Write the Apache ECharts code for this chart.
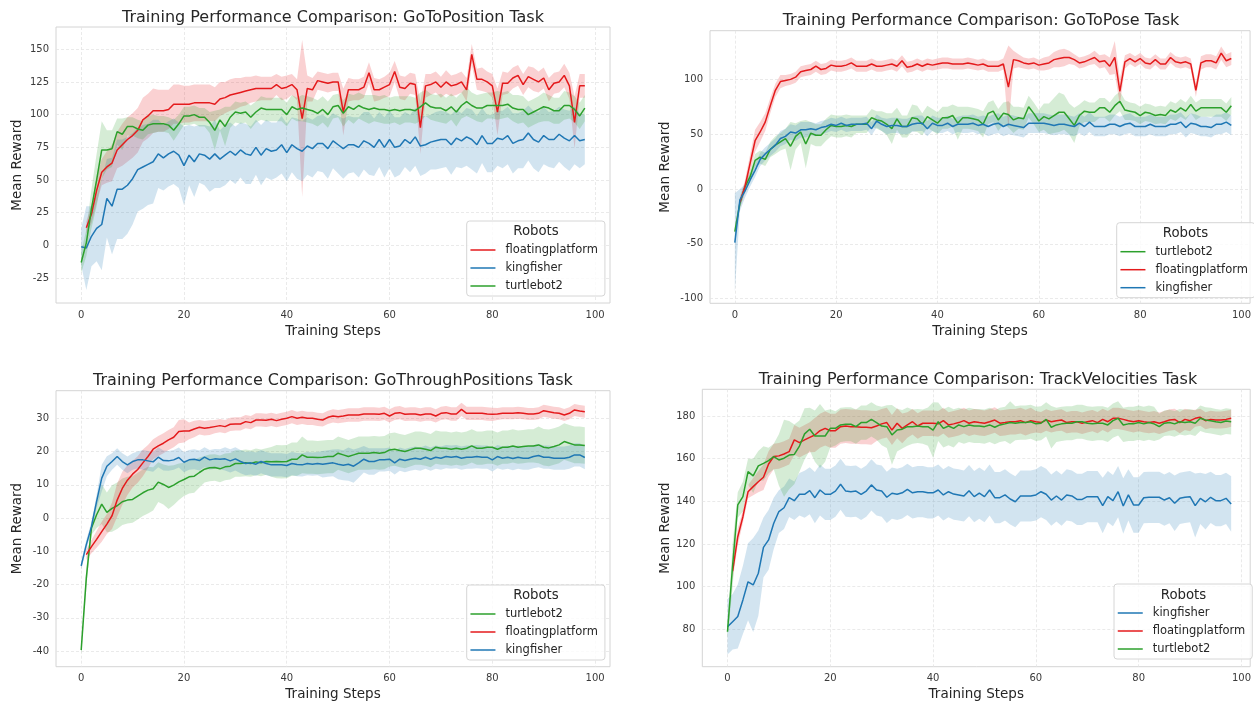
<!DOCTYPE html>
<html><head><meta charset="utf-8">
<script src="https://cdn.jsdelivr.net/npm/echarts@6/dist/echarts.min.js"></script>
<style>html,body{margin:0;padding:0;background:#fff}#c{width:1254px;height:703px}</style>
</head><body><div id="c"></div>
<script>
// ---------------- DATA ----------------
// x = training step; kingfisher & turtlebot2 start at step 0, floatingplatform at step 1
const firstStep = {floatingplatform: 1, kingfisher: 0, turtlebot2: 0};
const xTicks = [0, 20, 40, 60, 80, 100];
const p1YTicks = [-25, 0, 25, 50, 75, 100, 125, 150];
const p2YTicks = [-100, -50, 0, 50, 100];
const p3YTicks = [-40, -30, -20, -10, 0, 10, 20, 30];
const p4YTicks = [80, 100, 120, 140, 160, 180];

// GoToPosition
const p1KingMean = [-1,-2,7,13,16,36,30,43,43,46,51,58,60,62,64,70,67,70,72,69,61,69,64,70,69,66,70,66,69,72,69,73,70,69,75,69,74,72,73,77,71,77,74,72,76,74,78,78,74,80,77,74,77,77,75,80,78,75,81,75,81,75,76,81,78,83,76,77,79,80,81,81,77,82,80,83,81,77,84,78,78,82,81,84,78,80,81,86,81,79,84,81,81,85,82,80,84,80,81];
const p1KingCi = [14,32,23,25,35,30,37,38,38,37,35,32,32,31,32,26,25,25,25,25,30,23,27,22,23,25,26,22,23,22,22,21,23,22,21,23,22,22,21,22,22,21,23,23,22,22,21,22,23,21,22,23,22,21,23,22,24,22,21,23,22,23,22,21,22,22,23,22,21,22,22,21,23,22,21,22,23,22,21,22,22,21,22,22,23,21,22,21,22,23,22,21,22,21,22,23,22,21,19];
const p1FloatMean = [13.5,24,42,56,60,63,73,77,81,84,88,96,99,103,103,103,104,108,108,108,108,109,109,109,109,108,112,113,115,116,117,118,119,120,120,120,120,123,120,121,123,119,97,120,119,126,125,124,125,125,102,119,119,119,121,132,119,119,121,123,133,121,120,124,123,90,122,123,125,121,125,122,123,125,119,146,127,127,125,122,102,124,124,128,130,123,129,127,125,128,119,124,125,130,122,94,122,122];
const p1FloatCi = [5,7,10,10,12,14,14,16,17,17,17,17,17,17,16,16,15,15,15,14,14,14,14,14,14,13,13,12,12,12,11,11,10,10,9,9,9,8,9,9,8,8,60,10,9,7,7,7,7,7,18,9,8,8,8,8,9,8,8,9,8,9,9,8,8,20,9,8,8,8,9,8,8,8,9,8,8,9,8,9,18,9,8,8,8,8,8,9,8,8,9,8,8,9,10,20,9,9];
const p1TurtleMean = [-13,2,28,50,73,73,74,87,85,91,91,89,88,92,93,93,93,92,88,93,99,99,100,98,98,94,88,96,91,98,102,101,102,98,102,105,104,104,104,104,100,106,104,105,104,103,101,104,100,106,107,101,106,104,107,105,104,105,104,104,103,104,103,104,104,103,106,109,106,105,105,103,106,102,107,110,107,105,105,107,107,107,107,108,105,104,104,100,102,104,106,105,103,103,107,107,104,99,105];
const p1TurtleCi = [8,10,15,20,22,15,14,10,12,7,7,7,7,7,7,6,6,6,8,7,7,7,7,7,7,8,15,8,15,8,8,8,8,9,8,9,9,9,9,9,9,9,9,10,10,10,10,10,10,9,9,10,10,11,10,10,11,10,10,11,10,10,11,10,10,10,11,10,10,10,11,10,10,11,10,11,10,10,11,10,10,11,10,10,10,11,10,10,10,10,11,10,10,10,11,10,10,10,10];

// GoToPose
const p2KingMean = [-49,-10,-2,8,17,27,32,36,40,46,48,52,51,54,54,55,54,56,57,59,58,60,58,59,59,59,60,55,62,59,57,58,58,57,57,59,60,60,55,60,58,58,60,57,59,59,59,60,58,59,57,59,60,57,59,58,57,56,60,60,60,60,59,58,59,59,58,57,60,57,61,57,57,57,59,59,57,59,60,57,57,57,59,57,57,57,59,59,61,56,60,59,57,57,56,59,59,61,58];
const p2KingCi = [45,10,6,6,6,6,6,6,6,7,7,7,7,7,7,6,6,6,6,6,6,6,6,6,6,6,6,6,6,6,7,7,7,7,7,7,7,7,7,7,7,7,7,7,7,8,8,8,8,8,9,9,9,9,9,9,9,9,9,9,9,9,9,9,9,9,9,9,9,9,9,9,9,9,9,9,9,9,9,9,9,9,9,9,9,9,9,9,9,9,9,9,9,9,9,9,9,9,9];
const p2FloatMean = [-12,2,23,44,52,61,76,90,98,99,100,102,107,108,109,112,109,110,113,112,112,113,115,112,112,112,114,112,112,113,114,112,117,111,112,114,112,114,113,114,115,115,114,114,114,115,114,113,114,112,112,112,114,93,118,117,115,114,115,113,114,115,118,119,120,120,118,115,116,118,120,116,117,112,120,89,116,119,116,119,115,114,118,114,114,120,116,115,116,114,90,115,117,117,115,124,117,119];
const p2FloatCi = [5,6,8,10,9,8,7,6,6,5,5,5,5,5,5,5,5,5,5,5,5,5,5,5,5,5,5,5,5,5,5,5,5,5,5,5,5,5,5,5,5,5,5,5,5,5,5,5,5,5,5,5,5,38,8,6,5,5,5,5,6,6,7,8,8,6,5,5,5,5,6,6,6,8,15,12,6,5,5,5,5,5,5,5,5,5,5,5,5,5,6,6,6,6,6,6,6,6];
const p2TurtleMean = [-39,-13,2,11,26,29,27,36,40,43,46,39,48,52,41,51,49,49,54,58,57,57,58,57,59,59,59,65,63,62,59,55,64,57,57,65,64,59,66,63,60,65,65,67,60,65,65,64,63,59,69,71,63,69,68,63,65,64,75,69,62,66,64,67,70,70,64,58,67,71,70,70,74,74,70,76,80,72,71,70,67,70,69,67,68,67,72,70,74,71,77,71,74,74,74,74,74,70,76];
const p2TurtleCi = [5,5,4,5,6,6,6,7,8,8,9,22,12,10,22,10,10,10,10,10,10,10,10,10,8,8,8,8,8,9,10,14,10,10,10,12,12,10,10,10,10,10,10,10,15,10,10,10,10,12,10,10,10,10,12,12,10,10,10,10,10,12,14,16,18,16,14,16,10,10,9,9,9,9,9,9,9,9,8,8,8,8,8,8,8,8,8,8,8,8,8,8,8,8,8,8,8,8,8];

// GoThroughPositions
const p3KingMean = [-14.4,-8,-2.6,5,12,15.6,17,18.5,17,16,17,17.5,17.5,17.2,16.9,18.3,17.3,17.2,17.5,18.2,16.8,17.5,17.7,17.3,18.3,17.5,17.8,17.7,17.8,17.2,17.8,17,16.4,16.6,16.2,17,16.4,16,16,16,15.8,16.4,16.1,16,16.4,16.2,16.4,16.2,16.4,16.6,16.2,15.9,16.2,15.6,16.6,17.7,17,17,17.5,17.5,17.7,16.6,17.7,17.3,17.7,18,17.7,18.3,17.7,18.3,18,18.5,18.3,18.5,18,18.3,18.3,18.5,18.3,18.3,17.5,18.5,18,18.3,17.9,18.3,18,18,18.5,18.8,18.3,18.3,18,18,18,18.3,19,19,18.2];
const p3KingCi = [1.2,1.5,1.5,2,4,3,2.5,2.5,2.5,2.5,2.5,2.5,3,3,3,3,3,3,3,3,3,3,3,3,3,3,3,3,3.5,3.5,3.5,3.5,3.5,3.5,3.5,3.5,3.5,3.5,3.5,3.5,3.5,3.5,3.5,3.5,3.5,3.5,3.5,4,4,4,4.5,4.5,5,5,4.5,4,4,4,3.5,3.5,3.5,3.5,3.5,3.5,3.5,3.5,3.5,3.5,3.5,3.5,3.5,3.5,3.5,3.5,3.5,3.5,3.5,3.5,3.5,3.5,3.5,3.5,3.5,3.5,3.5,3.5,3.5,3.5,3.5,3.5,3.5,3.5,3.5,3.5,3.5,3.5,3.5,3.5,3.5];
const p3FloatMean = [-11,-8.6,-6.4,-4.1,-1.8,0.7,5.4,8.9,11.4,13.2,14.6,16.6,18.5,20.7,21.7,22.5,23.5,24.3,26,26.2,26.2,26.8,27.3,27,27.2,27.5,27.8,27.5,28.2,28.3,28.3,29,28.7,29.5,29.5,29.4,29.7,29.3,29.7,30,30.5,30,30.3,30,30,29.7,29.5,30.3,30.7,30.5,30.7,31,31,31,31.3,31.3,31.3,31.2,31.5,30.7,31.5,31.7,31.2,31.3,31.3,31,31.3,31.3,30.7,31.5,31.7,31.3,31.3,32.7,31.5,31.5,31.5,31.5,31.3,31.2,31.3,31.5,31.5,31.5,31.7,31.5,31.3,31.3,31.5,32.3,32,31.7,31.5,31,31.5,32.5,32.2,32];
const p3FloatCi = [1.5,2,2.5,3,3,4,5,5,4.5,4,4,4,3.5,3,3,3,3,3,3.5,3.5,2.5,2.5,2.2,2.2,2.2,2,2,2,2,2,2,2,2,2,2,2,2,2,2,2,2,2,2,2,2,2,2,2,2,2,2,2,2,2,2,2,2,2,2,2,2,2,2,2,2,2,2,2,2,2,2,2,2,2,2,2,2,2,2,2,1.8,1.8,1.8,1.8,1.8,1.8,1.8,1.8,1.8,1.8,1.8,1.8,1.8,1.8,1.8,1.8,1.8,1.8];
const p3TurtleMean = [-39.7,-18,-3,1,4.2,1.7,2.9,3.7,4.9,5.4,5.6,6.6,7.6,8.4,8.8,10.8,10.1,9.2,9.9,10.9,11.6,12.4,12.6,13.7,14.7,15.1,15.2,14.8,15.4,15.6,16.4,16.4,16.6,16.4,16.9,16.6,17,16.9,17,16.9,17,17.7,17.7,19,18.3,18.3,18.2,18.3,18.5,18.5,19.5,19,18.5,19,19.5,19.5,19.5,19.7,19.5,19.7,20.5,20.7,20.3,20,20.5,21,21,20.7,20.3,21.3,21,21,20.7,21,20.7,21,21.7,21,21,21.3,21.3,20.7,21.3,21.3,21.7,21.3,21.5,21.7,21.7,22,21.3,21.1,21.5,22,23,22.5,22,22,21.8];
const p3TurtleCi = [1.5,3,2,4,6,6,7,7,7,7,7,7,7,7,6.5,6,6,6.5,6,5.5,5,5,5,4.5,4,4,4,4,4,4,4,4,4,4,4,4,4,4.5,5,5,5,5,5,5.5,5,5,5,5,5,5,5,5,5,5,5,5,5,5,5,5,5,5,5,5,5,5,5,5,5,5,5,5,5,5,5,5,5,5,5,5,5,5,5,5,5,5,5,5,5,5.5,5.5,5.5,5.5,5.5,5.5,5.5,5.5,5.5,5.5];

// TrackVelocities
const p4KingMean = [81.2,83.6,86,93.8,102.3,100.8,106.3,118.4,121.9,129.7,135.2,137,141.7,140.3,143.3,143.3,145,141.7,145.3,143.3,143.3,144.8,148,144.8,144.5,144.8,143.3,144.8,147.7,145.3,144.8,141.9,143.8,143.3,144,145.6,144,144.5,144.5,144,144,145.3,143,144.5,143.4,143,142.5,145,142.2,143.8,142.2,145.3,141.7,141.7,143,141.1,139.8,142.5,142.5,142.5,143,144.5,143.3,140.6,142.5,140.6,143,142.5,140.9,140.9,142.2,142.2,142.2,138,142.2,140.3,144.5,137.8,143,138.3,138.3,141.7,141.9,141.9,141.9,140.6,141.7,139.1,141.4,141.9,142.2,138,141.4,139.8,141.9,140.3,140.3,141.4,138.8];
const p4KingCi = [13,13,15,16,18,22,20,14,14,12,10,10,9,9,10,11,11,12,12,12,12,12,12,12,12,12,12,12,12,12,12,12,12,12,12,12,12,12,12,12,12,12,12,12,12,12,12,12,12,12,12,12,12,12,12,12,12,12,12,12,12,12,12,12,12,12,12,12,12,12,12,12,12,13,12,12,12,13,12,13,13,12,12,12,12,12,12,13,12,12,12,15,12,13,12,12,12,12,13];
const p4FloatMean = [107.3,123.4,132.8,144.5,146.9,149.2,151.3,157.5,161,161.3,162.2,163.3,168.8,167.5,168.8,170,171.1,173.1,174.2,173.1,173.1,175,175.3,175,175,174.7,174.7,174.5,175.3,176.3,176.9,173.4,176.6,174.2,175.8,177.3,175.3,176.6,176.6,176.6,176.3,177.8,175.8,176.3,176.9,177.8,176.6,177.3,176.9,176.6,177.3,178.1,176.6,176.9,177.3,177.3,177.8,176.9,177.8,177.3,176.9,178.1,177.3,177.8,178.1,176.9,177.3,177.3,176.6,177.3,177.8,176.9,178.4,177.3,178.9,178.9,178.4,177.8,177.3,177.8,177.3,176.9,177.3,176.6,177.3,178.1,178.4,176.9,178.4,177.8,178.9,179.4,177.8,178.4,178.1,178.1,178.4,178.9];
const p4FloatCi = [4,4,3,3,4,5,6,6,6,6,6,6,7,7,7,7,8,8,8,8,8,8,8,8,8,8,8,8,7,7,7,7,7,7,6,6,6,6,6,6,6,6,6,6,6,6,6,6,6,6,6,6,6,6,6,6,6,6,6,5,5,5,5,5,5,5,5,5,5,5,5,5,5,5,5,5,5,5,5,5,5,5,5,5,5,5,5,5,5,5,4,4,4,4,4,4,4,4];
const p4TurtleMean = [78.9,110,138.3,142.2,153.9,151.9,156.6,157.8,159.1,161,159.4,160.2,161.7,162,165.9,171.6,173.8,170.6,170.6,170.6,174.2,174.2,175.8,176.1,176.1,175,176.9,176.9,178.4,176.9,175.3,175,171.1,173.4,173.8,175,175,175.3,175,175,173.4,177.3,174.2,175.3,174.2,175.8,175,175.8,175.3,175.3,175,175.8,174.7,175.8,176.3,176.9,176.6,176.9,176.9,177.3,176.3,176.6,178.4,174.7,175.8,176.3,176.6,176.6,177.3,177.3,176.6,176.3,176.6,176.6,175.8,177.8,178.9,175.8,176.3,176.3,176.9,176.3,176.9,176.3,175,176.6,176.9,176.3,177.3,176.9,177.3,176.6,178.9,178.1,177.8,177.3,176.9,177.6,177.3];
const p4TurtleCi = [3,10,6,7,6,8,7,8,6,6,12,18,16,14,12,12,10,12,15,12,9,8,8,8,8,8,8,8,8,8,9,10,14,10,9,9,8,8,8,9,13,9,9,9,9,8,8,8,8,8,8,8,8,8,8,10,8,8,8,8,8,8,8,10,8,8,8,8,8,8,8,8,8,8,8,8,8,8,8,8,8,8,8,8,6,6,6,6,6,6,6,6,6,6,6,6,6,6,6];

// ---------------- LAYOUT / STYLE ----------------
const COLORS = {floatingplatform: '#e41a1c', kingfisher: '#1f77b4', turtlebot2: '#2ca02c'};
const FONT = "'DejaVu Sans', sans-serif";
const panels = [
  {title: 'Training Performance Comparison: GoToPosition Task', titleXY: [333, 17.8],
   grid: [56, 27, 554, 276], xMax: 102.9, yMin: -44, yMax: 167, yTicks: p1YTicks, yNameGap: 32,
   order: ['floatingplatform', 'kingfisher', 'turtlebot2'], legendXY: [466.7, 221], legendTitleXY: [536, 232],
   data: {floatingplatform: [p1FloatMean, p1FloatCi], kingfisher: [p1KingMean, p1KingCi], turtlebot2: [p1TurtleMean, p1TurtleCi]}},
  {title: 'Training Performance Comparison: GoToPose Task', titleXY: [981, 21],
   grid: [710, 30.7, 543, 272.6], xMax: 101.7, yMin: -104.3, yMax: 144.4, yTicks: p2YTicks, yNameGap: 38,
   order: ['turtlebot2', 'floatingplatform', 'kingfisher'], legendXY: [1116.7, 222.7], legendTitleXY: [1185.5, 233.5],
   data: {floatingplatform: [p2FloatMean, p2FloatCi], kingfisher: [p2KingMean, p2KingCi], turtlebot2: [p2TurtleMean, p2TurtleCi]}},
  {title: 'Training Performance Comparison: GoThroughPositions Task', titleXY: [333, 381],
   grid: [56, 390.7, 554, 276], xMax: 102.9, yMin: -44.7, yMax: 38.3, yTicks: p3YTicks, yNameGap: 32,
   order: ['turtlebot2', 'floatingplatform', 'kingfisher'], legendXY: [466.7, 585], legendTitleXY: [536, 596],
   data: {floatingplatform: [p3FloatMean, p3FloatCi], kingfisher: [p3KingMean, p3KingCi], turtlebot2: [p3TurtleMean, p3TurtleCi]}},
  {title: 'Training Performance Comparison: TrackVelocities Task', titleXY: [978, 380.3],
   grid: [702.3, 389.3, 550.7, 277.4], xMax: 101.7, yMin: 62.5, yMax: 192.5, yTicks: p4YTicks, yNameGap: 30,
   order: ['kingfisher', 'floatingplatform', 'turtlebot2'], legendXY: [1114, 584], legendTitleXY: [1183.5, 596],
   data: {floatingplatform: [p4FloatMean, p4FloatCi], kingfisher: [p4KingMean, p4KingCi], turtlebot2: [p4TurtleMean, p4TurtleCi]}}
];

function hexToRgba(hex, a) {
  const n = parseInt(hex.slice(1), 16);
  return 'rgba(' + ((n >> 16) & 255) + ',' + ((n >> 8) & 255) + ',' + (n & 255) + ',' + a + ')';
}

// Band drawn as one polygon through the library's coordinate system (api.coord)
function bandRenderer(fill) {
  return function (params, api) {
    if (params.dataIndexInside !== 0) return null;
    const n = params.dataInsideLength;
    const upper = [], lower = [];
    for (let i = 0; i < n; i++) {
      const x = api.value(0, i);
      upper.push(api.coord([x, api.value(2, i)]));
      lower.push(api.coord([x, api.value(1, i)]));
    }
    return {type: 'polygon', shape: {points: upper.concat(lower.reverse())},
      style: {fill: fill, stroke: 'none'}, silent: true};
  };
}

const grids = [], xAxes = [], yAxes = [], series = [], legends = [], graphics = [];
const gridLine = {show: true, lineStyle: {color: '#e4e4e4', width: 0.8, type: [3, 2]}};
const tickLabel = {fontSize: 10, color: '#3a3a3a', fontFamily: FONT, margin: 7};
const nameStyle = {fontSize: 13.5, color: '#262626', fontFamily: FONT};

panels.forEach((p, gi) => {
  grids.push({left: p.grid[0], top: p.grid[1], width: p.grid[2], height: p.grid[3], show: true,
    borderColor: '#d4d4d4', borderWidth: 1, backgroundColor: 'transparent'});
  xAxes.push({type: 'value', gridIndex: gi, min: -4.9, max: p.xMax, name: 'Training Steps',
    nameLocation: 'middle', nameGap: 21, nameTextStyle: nameStyle,
    axisLine: {show: false}, axisTick: {show: false, customValues: xTicks},
    axisLabel: Object.assign({customValues: xTicks}, tickLabel), splitLine: gridLine});
  yAxes.push({type: 'value', gridIndex: gi, min: p.yMin, max: p.yMax, name: 'Mean Reward',
    nameLocation: 'middle', nameGap: p.yNameGap, nameTextStyle: nameStyle,
    axisLine: {show: false}, axisTick: {show: false, customValues: p.yTicks},
    axisLabel: Object.assign({customValues: p.yTicks}, tickLabel), splitLine: gridLine});

  p.order.forEach(name => {
    const mean = p.data[name][0], ci = p.data[name][1], s0 = firstStep[name];
    series.push({type: 'custom', name: name + ' band', xAxisIndex: gi, yAxisIndex: gi, silent: true,
      renderItem: bandRenderer(hexToRgba(COLORS[name], 0.2)),
      encode: {x: 0, y: [1, 2]},
      data: mean.map((m, i) => [i + s0, m - ci[i], m + ci[i]])});
    series.push({type: 'line', name: name, xAxisIndex: gi, yAxisIndex: gi, symbol: 'none',
      data: mean.map((m, i) => [i + s0, m]), lineStyle: {color: COLORS[name], width: 1.5},
      itemStyle: {color: COLORS[name]}, emphasis: {disabled: true}});
  });

  legends.push({data: p.order, orient: 'vertical', left: p.legendXY[0], top: p.legendXY[1],
    itemWidth: 25, itemHeight: 14, itemGap: 6, padding: [23, 7, 4, 3], selectedMode: false,
    itemStyle: {opacity: 0}, lineStyle: {width: 1.5},
    borderColor: '#d6d6d6', borderWidth: 1, borderRadius: 3, backgroundColor: 'rgba(255,255,255,0.8)',
    textStyle: {fontSize: 11.5, color: '#262626', fontFamily: FONT, padding: [0, 0, 0, 5]}});
  graphics.push({type: 'text', x: p.legendTitleXY[0], y: p.legendTitleXY[1], z: 100,
    style: {text: 'Robots', fill: '#262626', font: '13.3px ' + FONT, align: 'center', verticalAlign: 'middle'}});
  graphics.push({type: 'text', x: p.titleXY[0], y: p.titleXY[1], z: 100,
    style: {text: p.title, fill: '#262626', font: '16px ' + FONT, align: 'center', verticalAlign: 'middle'}});
});

const chart = echarts.init(document.getElementById('c'), null, {renderer: 'canvas'});
chart.setOption({
  animation: false,
  backgroundColor: '#ffffff',
  grid: grids, xAxis: xAxes, yAxis: yAxes, series: series, legend: legends, graphic: graphics
});
</script></body></html>
